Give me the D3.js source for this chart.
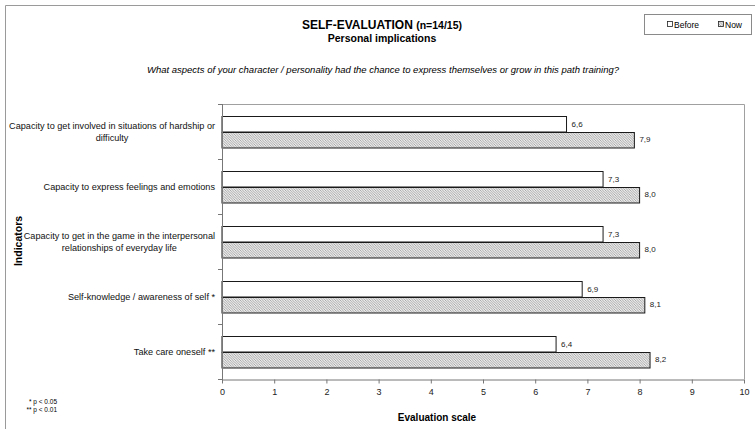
<!DOCTYPE html>
<html>
<head>
<meta charset="utf-8">
<script src="https://cdn.jsdelivr.net/npm/d3@7"></script>
<style>
  body { margin: 0; background: #fff; }
  svg { display: block; font-family: "Liberation Sans", Arial, sans-serif; }
</style>
</head>
<body>
<svg id="vis" width="755" height="429"></svg>
<script>
// data
const categories = [
  ["Capacity to get involved in situations of hardship or", "difficulty"],
  ["Capacity to express feelings and emotions"],
  ["Capacity to get in the game in the interpersonal", "relationships of everyday life"],
  ["Self-knowledge / awareness of self *"],
  ["Take care oneself **"]
]
const seriesNames = ["Before", "Now"]
const beforeValues = [6.6, 7.3, 7.3, 6.9, 6.4]
const nowValues = [7.9, 8.0, 8.0, 8.1, 8.2]
const xTicks = [0, 1, 2, 3, 4, 5, 6, 7, 8, 9, 10]
const footnotes = ["* p < 0.05", "** p < 0.01"]

const svg = d3.select("#vis")
const W = 755, H = 429
const plot = { left: 222, right: 744, top: 104, bottom: 379 }

// pattern for the "Now" bars
const defs = svg.append("defs")
const pat = defs.append("pattern")
  .attr("id", "hatch")
  .attr("patternUnits", "userSpaceOnUse")
  .attr("width", 2.5).attr("height", 2.5)
pat.append("rect").attr("width", 2.5).attr("height", 2.5).attr("fill", "#ececec")
pat.append("path")
  .attr("d", "M-1,-1 L3.5,3.5 M-1,1.5 L1,3.5 M1.5,-1 L3.5,1")
  .attr("stroke", "#8c8c8c").attr("stroke-width", 0.7)

// outer frame
svg.append("path")
  .attr("d", `M5.5,${H} L5.5,5.5 L${W},5.5`)
  .attr("fill", "none").attr("stroke", "#9a9a9a").attr("stroke-width", 1)

// titles
const title = svg.append("text")
  .attr("x", 382).attr("y", 29)
  .attr("text-anchor", "middle")
  .attr("font-weight", "bold")
title.append("tspan").attr("font-size", 12).text("SELF-EVALUATION ")
title.append("tspan").attr("font-size", 10.5).text("(n=14/15)")

svg.append("text")
  .attr("x", 382).attr("y", 42)
  .attr("text-anchor", "middle")
  .attr("font-weight", "bold")
  .attr("font-size", 10.5)
  .text("Personal implications")

svg.append("text")
  .attr("x", 383).attr("y", 73)
  .attr("text-anchor", "middle")
  .attr("font-style", "italic")
  .attr("font-size", 9.5)
  .text("What aspects of your character / personality had the chance to express themselves or grow in this path training?")

// legend
svg.append("rect")
  .attr("x", 644.5).attr("y", 14.5).attr("width", 107).attr("height", 20)
  .attr("fill", "#fff").attr("stroke", "#8a8a8a")
const legendX = [667, 718]
seriesNames.forEach((s, i) => {
  svg.append("rect")
    .attr("x", legendX[i] + 0.5).attr("y", 21.5).attr("width", 5).attr("height", 5)
    .attr("fill", i === 0 ? "#fff" : "url(#hatch)")
    .attr("stroke", "#222").attr("stroke-width", 0.8)
  svg.append("text")
    .attr("x", legendX[i] + 7).attr("y", 27.5)
    .attr("font-size", 8.5)
    .text(s)
})

// scales
const x = d3.scaleLinear().domain([0, 10]).range([plot.left, plot.right])
const y = d3.scaleBand().domain(d3.range(categories.length)).range([plot.top, plot.bottom])
const ySub = d3.scaleBand().domain(seriesNames).range([0, y.bandwidth()]).paddingInner(0).paddingOuter(0.775)

// plot area border (top/right)
svg.append("path")
  .attr("d", `M${plot.left},${plot.top + 0.5} L${plot.right + 0.5},${plot.top + 0.5} L${plot.right + 0.5},${plot.bottom}`)
  .attr("fill", "none").attr("stroke", "#a0a0a0")

const rows = categories.map((c, i) => ({ i, before: beforeValues[i], now: nowValues[i] }))
const barData = rows.flatMap(r => [
  { i: r.i, s: "Before", v: r.before },
  { i: r.i, s: "Now", v: r.now }
])

svg.append("g")
  .selectAll("rect")
  .data(barData)
  .join("rect")
  .attr("x", x(0))
  .attr("y", d => Math.round(y(d.i) + ySub(d.s)) + 0.5)
  .attr("width", d => x(d.v) - x(0))
  .attr("height", ySub.bandwidth())
  .attr("fill", d => d.s === "Before" ? "#fff" : "url(#hatch)")
  .attr("stroke", "#1a1a1a").attr("stroke-width", 1)

// value labels
svg.append("g")
  .selectAll("text")
  .data(barData)
  .join("text")
  .attr("x", d => x(d.v) + 5)
  .attr("y", d => y(d.i) + ySub(d.s) + ySub.bandwidth() / 2)
  .attr("dy", "0.35em")
  .attr("font-size", 8)
  .attr("fill", "#222")
  .text(d => d3.format(".1f")(d.v).replace(".", ","))

// x axis
const xAxis = svg.append("g")
  .attr("transform", `translate(0,${plot.bottom + 0.5})`)
  .call(d3.axisBottom(x).tickValues(xTicks).tickSize(4).tickSizeOuter(0).tickFormat(d3.format("d")))
xAxis.select(".domain").attr("stroke", "#777")
xAxis.selectAll(".tick line").attr("stroke", "#777")
xAxis.selectAll(".tick text").attr("font-size", 9).attr("fill", "#222").attr("dy", "0.9em")
  .attr("font-family", "Liberation Sans, Arial, sans-serif")

// y axis: ticks at band boundaries
const yAxis = svg.append("g")
svg.append("line")
  .attr("x1", plot.left + 0.5).attr("x2", plot.left + 0.5)
  .attr("y1", plot.top).attr("y2", plot.bottom + 1)
  .attr("stroke", "#777")
yAxis.selectAll("line")
  .data(d3.range(categories.length + 1))
  .join("line")
  .attr("x1", plot.left - 4).attr("x2", plot.left)
  .attr("y1", d => Math.round(plot.top + d * y.step()) + 0.5)
  .attr("y2", d => Math.round(plot.top + d * y.step()) + 0.5)
  .attr("stroke", "#777")

// category labels: right-aligned block, lines centered within
const labelRight = 215
const lineH = 12
const labelSize = 9.15
categories.forEach((lines, i) => {
  const cy = y(i) + y.bandwidth() / 2
  const ctx = document.createElement("canvas").getContext("2d")
  ctx.font = labelSize + "px 'Liberation Sans'"
  const blockW = d3.max(lines, l => ctx.measureText(l).width)
  const cx = labelRight - blockW / 2
  lines.forEach((l, j) => {
    svg.append("text")
      .attr("x", cx)
      .attr("y", cy + (j - (lines.length - 1) / 2) * lineH)
      .attr("dy", "0.35em")
      .attr("text-anchor", "middle")
      .attr("font-size", labelSize)
      .attr("fill", "#111")
      .text(l)
  })
})

// axis titles
svg.append("text")
  .attr("transform", `translate(22,241) rotate(-90)`)
  .attr("text-anchor", "middle")
  .attr("font-weight", "bold")
  .attr("font-size", 10.5)
  .text("Indicators")

svg.append("text")
  .attr("x", 437).attr("y", 421)
  .attr("text-anchor", "middle")
  .attr("font-weight", "bold")
  .attr("font-size", 10)
  .text("Evaluation scale")

// footnotes
footnotes.forEach((f, i) => {
  svg.append("text")
    .attr("x", 57).attr("y", 404 + i * 8)
    .attr("text-anchor", "end")
    .attr("font-size", 6.5)
    .text(f)
})
</script>
</body>
</html>
